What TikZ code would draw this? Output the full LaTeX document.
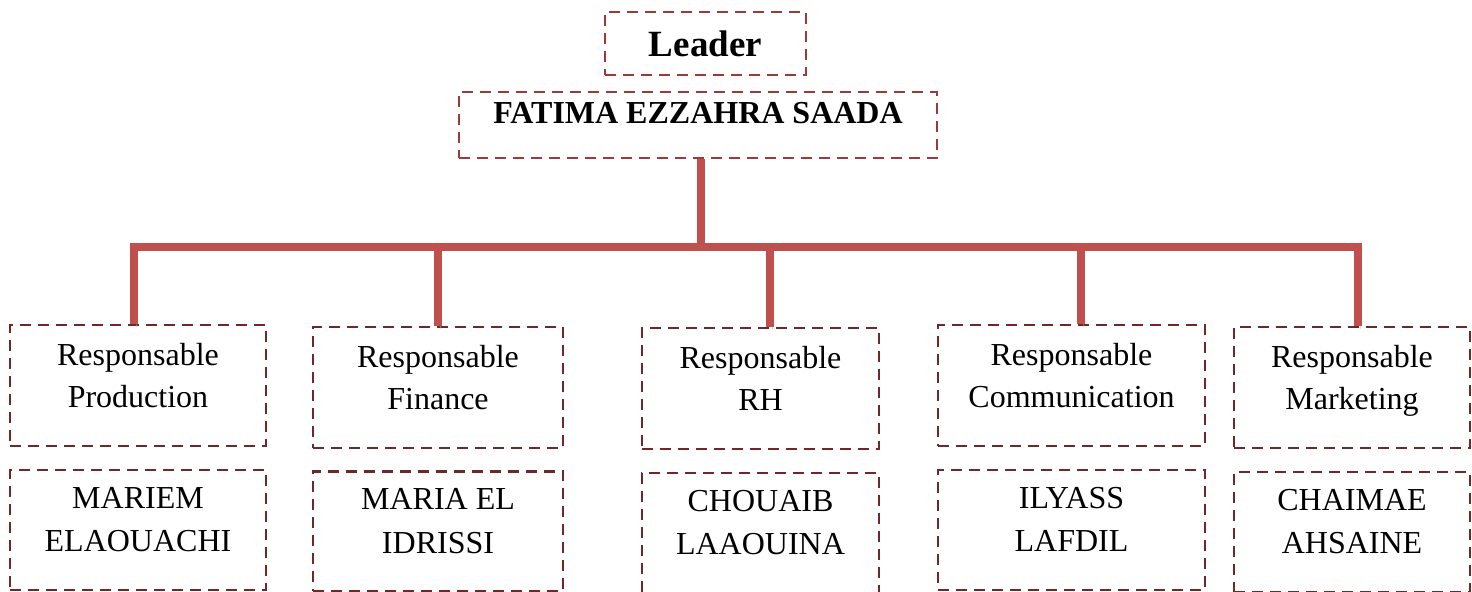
\documentclass[tikz,border=0pt]{standalone}
\usepackage{fontspec}
\setmainfont{Liberation Serif}
\definecolor{boxred}{RGB}{110,40,40}
\definecolor{topred}{RGB}{155,58,58}
\definecolor{linkred}{RGB}{192,80,77}

\begin{document}
\begin{tikzpicture}[x=0.5pt,y=-0.5pt,
    box/.style={draw=boxred, line width=1.4pt, dash pattern=on 5.5pt off 3.5pt,
      inner sep=0pt, align=center, font=\fontsize{16}{21}\selectfont},
    role/.style={box, minimum height=60.5pt, text height=41.25pt, text depth=19.25pt},
    person/.style={box, minimum height=60pt, text height=40.75pt, text depth=19.25pt,
      font=\fontsize{16}{21.5}\selectfont},
    link/.style={draw=linkred, line width=3.8pt,
      preaction={draw=black!30, opacity=0.5, transform canvas={shift={(1pt,-1.5pt)}}}}]
    \path[fill=white,use as bounding box] (0,0) rectangle (1472,592);

    % top of the chart
    \node[box, draw=topred, minimum width=100.5pt, minimum height=31.5pt,
      font=\fontsize{18.5}{22}\selectfont\bfseries] (leader) at (705.5,43.5) {Leader};
    \node[box, draw=topred, minimum width=239pt, minimum height=33pt,
      text height=16pt, text depth=17pt, font=\fontsize{16}{21}\selectfont\bfseries]
      (chef) at (698,125) {FATIMA EZZAHRA SAADA};

    % responsables
    \node[role, minimum width=128pt] (r1) at (138,385.5) {Responsable\\Production};
    \node[role, minimum width=125pt] (r2) at (438,387.5) {Responsable\\Finance};
    \node[role, minimum width=118.5pt] (r3) at (760.5,388.5) {Responsable\\RH};
    \node[role, minimum width=133.5pt] (r4) at (1071.5,385.5) {Responsable\\Communication};
    \node[role, minimum width=118pt] (r5) at (1352,387.5) {Responsable\\Marketing};

    % names
    \node[person, minimum width=128pt] (n1) at (138,530) {MARIEM\\ELAOUACHI};
    \node[person, minimum width=125pt] (n2) at (438,531.5) {MARIA EL\\IDRISSI};
    \node[person, minimum width=118.5pt] (n3) at (760.5,533) {CHOUAIB\\LAAOUINA};
    \node[person, minimum width=133.5pt] (n4) at (1071.5,530) {ILYASS\\LAFDIL};
    \node[person, minimum width=118pt] (n5) at (1352,532) {CHAIMAE\\AHSAINE};

    % links
    \coordinate (bus) at (701,247);
    \draw[link] (bus |- chef.south) -- (bus);
    \draw[link] ([xshift=-2pt]r1.north) |- (bus) -| ([xshift=3pt]r5.north);
    \draw[link] (r2.north) -- (r2.north |- bus);
    \draw[link] ([xshift=4.75pt]r3.north) -- ([xshift=4.75pt]r3.north |- bus);
    \draw[link] ([xshift=4.75pt]r4.north) -- ([xshift=4.75pt]r4.north |- bus);
\end{tikzpicture}
\end{document}
